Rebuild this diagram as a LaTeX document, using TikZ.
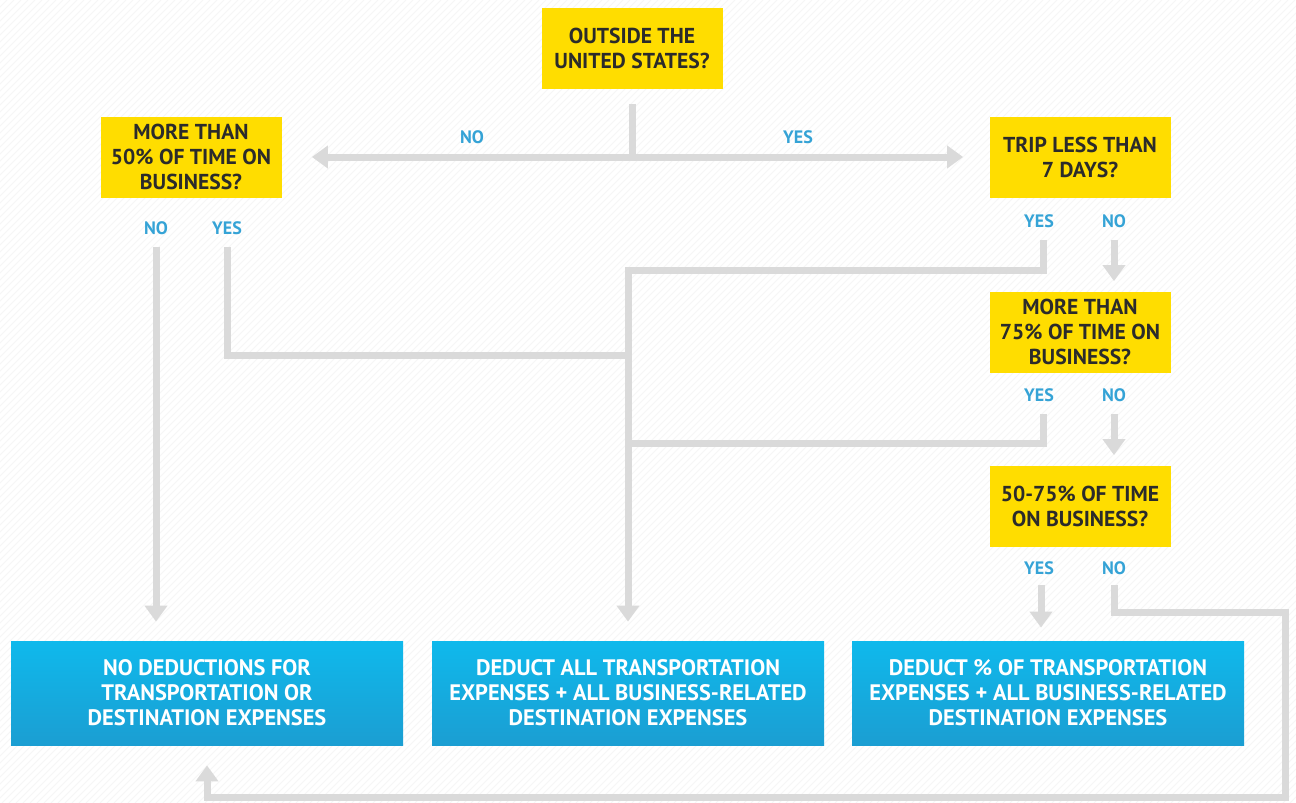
\documentclass[tikz,border=0pt]{standalone}
\usepackage{fontspec}
\setmainfont{PT Sans}
\usetikzlibrary{arrows.meta}
\definecolor{qyellow}{HTML}{FFDD00}
\definecolor{qblue}{HTML}{0FB9EC}
\definecolor{qbluedark}{HTML}{1B9ED2}
\definecolor{qlabel}{HTML}{35A3D6}
\definecolor{qline}{HTML}{DADADA}
\definecolor{qtext}{HTML}{2B2B2B}
\tikzset{
  question/.style={fill=qyellow, text=qtext, align=center, inner sep=0pt,
    font=\bfseries\fontsize{10.8}{12.5}\selectfont,
    minimum width=90.5pt, minimum height=40.5pt},
  outcome/.style={top color=qblue, bottom color=qbluedark, text=white, align=center,
    inner sep=0pt, font=\bfseries\fontsize{11.2}{12.5}\selectfont,
    minimum width=196pt, minimum height=52pt},
  answer/.style={text=qlabel, inner sep=2pt, font=\bfseries\fontsize{9}{10}\selectfont},
  flow/.style={draw=qline, line width=3.5pt},
  flowarrow/.style={flow, -{Triangle[width=11pt,length=8pt]}}
}
\begin{document}
\begin{tikzpicture}[x=0.5pt,y=-0.5pt]
\useasboundingbox (0,0) rectangle (1296,803);
\fill[white] (0,0) rectangle (1296,803);
\begin{scope}
\clip (0,0) rectangle (1296,803);
\foreach \i in {0,7,...,2100}
{
    \draw[gray!7, line width=0.4pt] (\i,0) -- (\i-803,803);
}
\end{scope}

% questions
\node[question] (outside) at (632,48) {OUTSIDE THE\\UNITED STATES?};
\node[question] (half) at (191,157) {MORE THAN\\50\% OF TIME ON\\BUSINESS?};
\node[question] (week) at (1080,157) {TRIP LESS THAN\\7 DAYS?};
\node[question] (most) at (1080,332) {MORE THAN\\75\% OF TIME ON\\BUSINESS?};
\node[question] (part) at (1080,506) {50-75\% OF TIME\\ON BUSINESS?};

% outcomes
\node[outcome] (none) at (207,693) {NO DEDUCTIONS FOR\\TRANSPORTATION OR\\DESTINATION EXPENSES};
\node[outcome] (all) at (628,693) {DEDUCT ALL TRANSPORTATION\\EXPENSES + ALL BUSINESS-RELATED\\DESTINATION EXPENSES};
\node[outcome] (pct) at (1048,693) {DEDUCT \% OF TRANSPORTATION\\EXPENSES + ALL BUSINESS-RELATED\\DESTINATION EXPENSES};

% answers
\node[answer] (outsideno) at (472,137) {NO};
\node[answer] (outsideyes) at (798,137) {YES};
\node[answer] (halfno) at (156,228) {NO};
\node[answer] (halfyes) at (227,228) {YES};
\node[answer] (weekyes) at (1039,221) {YES};
\node[answer] (weekno) at (1114,221) {NO};
\node[answer] (mostyes) at (1039,395) {YES};
\node[answer] (mostno) at (1114,395) {NO};
\node[answer] (partyes) at (1039,568) {YES};
\node[answer] (partno) at (1114,568) {NO};

\coordinate (split) at (632,157);
\coordinate (trunk) at (628,270);
\coordinate (join1) at (628,355);
\coordinate (join2) at (628,443);
\coordinate (loopa) at (1285,612);
\coordinate (loopb) at (1285,797);

% connectors
\draw[flow] ([yshift=-7.5pt]outside.south) -- (split);
\draw[flowarrow, shorten >=15pt] (split) -- (half);
\draw[flowarrow, shorten >=13pt] (split) -- (week);

\draw[flowarrow, shorten <=4pt, shorten >=9.5pt] (halfno.south) -- (halfno.south |- none.north);
\draw[flow, shorten <=4pt] (halfyes.south) |- (join1);

\draw[flowarrow, shorten <=4pt, shorten >=9.5pt] ([xshift=2pt]weekyes.south) |- (trunk) -- (all.north);
\draw[flowarrow, shorten <=4pt, shorten >=5pt] (weekno.south) -- (weekno.south |- most.north);

\draw[flow, shorten <=4pt] ([xshift=2pt]mostyes.south) |- (join2);
\draw[flowarrow, shorten <=4pt, shorten >=5pt] (mostno.south) -- (mostno.south |- part.north);

\draw[flowarrow, shorten <=3pt, shorten >=6.5pt] ([xshift=1pt]partyes.south) -- ([xshift=1pt]partyes.south |- pct.north);
\draw[flowarrow, shorten <=3pt, shorten >=10pt] (partno.south) |- (loopa) -- (loopb) -| (none.south);

\end{tikzpicture}
\end{document}
